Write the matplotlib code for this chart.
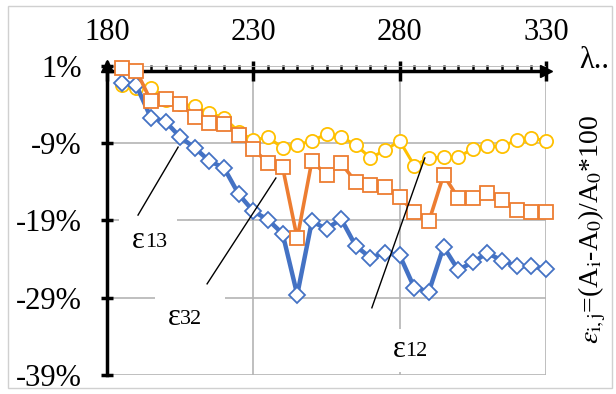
import numpy as np
import matplotlib.pyplot as plt
from matplotlib.patches import Rectangle

plt.rcParams['font.family'] = ['Liberation Serif', 'DejaVu Serif']
plt.rcParams['mathtext.fontset'] = 'stix'

# wavelength, nm
wl = list(range(185, 331, 5))

# relative change, %
eps13 = [-1.2, -1.5, -5.7, -6.2, -8.2, -9.6, -11.3, -12.2, -15.6, -17.8,
         -18.9, -20.7, -28.6, -19.1, -20.1, -18.8, -22.3, -23.8, -23.2, -23.5,
         -27.7, -28.2, -22.4, -25.4, -24.4, -23.2, -24.2, -24.9, -24.9, -25.3]
eps32 = [0.7, 0.4, -3.5, -3.3, -3.9, -5.6, -6.4, -6.5, -7.9, -9.7,
         -11.6, -12.1, -21.3, -11.3, -13.1, -11.6, -14.0, -14.4, -14.7, -16.0,
         -17.9, -19.1, -13.1, -16.1, -16.1, -15.4, -16.3, -17.6, -17.9, -17.9]
eps12 = [-1.5, -1.9, -1.9, -3.4, -3.9, -4.2, -5.1, -5.7, -7.5, -8.6,
         -8.2, -9.6, -9.2, -8.7, -7.8, -8.2, -9.2, -10.9, -9.9, -8.7,
         -11.9, -10.9, -10.8, -10.8, -9.7, -9.4, -9.4, -8.6, -8.3, -8.7]

yticks = [-39, -29, -19, -9, 1]
xticks = [180, 230, 280, 330]

fig = plt.figure(figsize=(6.16, 3.94), dpi=100)
fig.patches.append(Rectangle((8/616, 6/394), 604/616, 382/394, transform=fig.transFigure,
                             fill=False, edgecolor='#d0d0d0', linewidth=1.0))

ax = fig.add_axes([107/616, 1 - 375/394, (546 - 107)/616, (375 - 66)/394])
ax.set_xlim(180, 330)
ax.set_ylim(-39, 1)

ax.plot(wl, eps12, color='#FFC000', lw=2.2, marker='o', ms=9.5, mfc='white',
        mec='#FFC000', mew=1.3, zorder=3, clip_on=False)
ax.plot(wl, eps13, color='#4472C4', lw=3.2, marker='D', ms=8.5, mfc='white',
        mec='#4472C4', mew=1.3, zorder=4, clip_on=False)
ax.plot(wl, eps32, color='#ED7D31', lw=2.6, marker='s', ms=10.5, mfc='white',
        mec='#ED7D31', mew=1.3, zorder=5, clip_on=False)

# axes look
for s in ['right', 'bottom']:
    ax.spines[s].set_visible(False)
ax.spines['left'].set_linewidth(2.5)
ax.spines['top'].set_linewidth(2.5)
ax.spines['top'].set_position(('data', 0.4))
ax.xaxis.tick_top()
ax.set_xticks(xticks)
ax.set_xticks(np.arange(180, 331, 5), minor=True)
ax.set_yticks(yticks)
ax.set_yticklabels([f'{v}%' for v in yticks])
ax.tick_params(axis='x', which='major', direction='inout', length=14, width=2.5,
               labelsize=22, pad=10)
ax.tick_params(axis='x', which='minor', direction='out', length=4, width=1.8)
ax.tick_params(axis='y', which='major', direction='inout', length=8, width=2.5,
               labelsize=22, pad=14)
ax.grid(True, color='#b4b4b4', lw=1.2)
ax.set_axisbelow(True)

# arrow heads
ax.plot([1.0], [1 - 0.6/40], marker='>', ms=9, color='black', transform=ax.transAxes,
        clip_on=False, zorder=6)
ax.plot([0.0], [1.0], marker='^', ms=9, color='black', transform=ax.transAxes,
        clip_on=False, zorder=6)

# labels
fig.text(594/616, 1 - 60/394, 'λ..', fontsize=22, ha='center', va='center')
fig.text(592/616, 1 - 229/394, r'$\varepsilon_{\mathrm{i,j}}$=(A$_\mathrm{i}$-A$_0$)/A$_0$*100',
         fontsize=20, rotation=90, ha='center', va='center')

# curve labels: white box (hides grid), text, leader line
curve_labels = [
    ('13', 193, -21.6, (184, -24.4, 20, 5.8), (190.6, -18.3, 204.3, -9.5)),
    ('32', 205, -31.6, (196.4, -34.0, 24, 5.8), (214.2, -27.2, 237.7, -13.5)),
    ('12', 282, -35.7, (273.5, -38.6, 18, 5.6), (270.5, -30.3, 288.6, -10.9)),
]
for sub, tx, ty, (bx, by, bw, bh), (lx0, ly0, lx1, ly1) in curve_labels:
    ax.add_patch(Rectangle((bx, by), bw, bh, fc='white', ec='none', zorder=1))
    ax.plot([lx0, lx1], [ly0, ly1], color='black', lw=1.0, zorder=6)
    ax.text(tx, ty, 'ε', fontsize=22, ha='right', va='center', zorder=2)
    ax.text(tx, ty - 0.2, sub, fontsize=16, ha='left', va='center', zorder=2)

fig.savefig('out.png', dpi=100)
